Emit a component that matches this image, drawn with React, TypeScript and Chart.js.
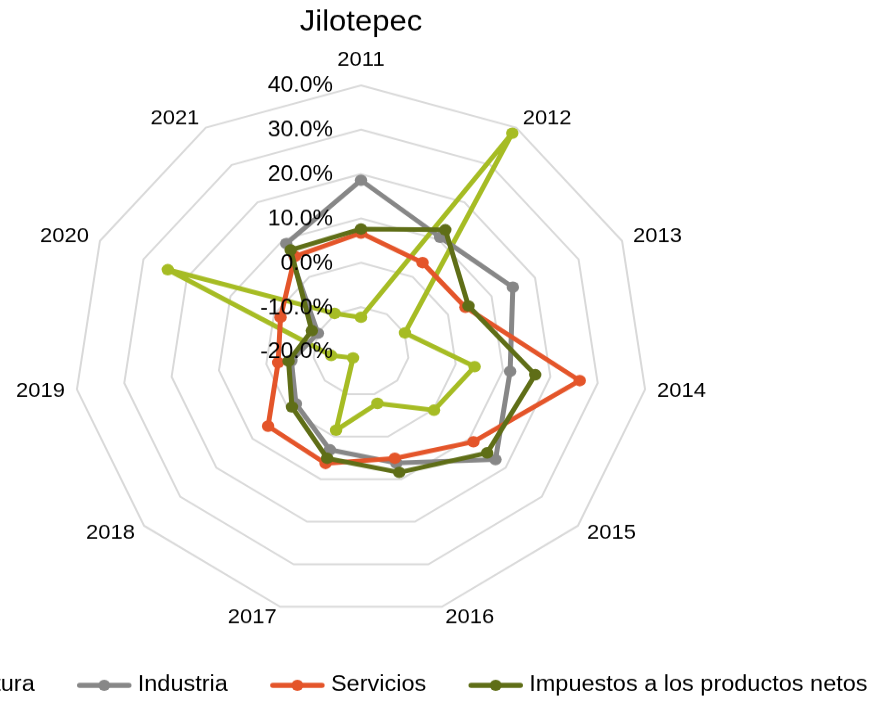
import React, { useEffect, useRef } from 'react';
import { Chart, registerables } from 'chart.js';

Chart.register(...registerables);

// ---- data ----
const categories = ['2011', '2012', '2013', '2014', '2015', '2016', '2017', '2018', '2019', '2020', '2021'];
const agricultura = [-12.3, 38.5, -9.9, 4.0, 0.2, -7.8, -1.5, -17.8, -13.7, 24.4, -9.8];
const industria = [18.6, 10.6, 14.9, 11.5, 17.2, 6.2, 3.1, -2.0, -5.3, -10.1, 8.9];
const servicios = [6.7, 3.8, 4.0, 26.2, 11.1, 5.1, 6.3, 5.7, -2.5, -1.5, 5.5];
const impuestos = [7.6, 12.6, 4.7, 16.8, 14.9, 8.4, 5.1, -0.9, -4.7, -8.7, 7.2];
const seriesNames = ['Agricultura', 'Industria', 'Servicios', 'Impuestos a los productos netos'];
const seriesColors = ['#A6BC24', '#878787', '#E4552A', '#5F6E17'];
const chartTitle = 'Jilotepec';
const scaleMin = -20;
const scaleMax = 40;
const scaleStep = 10;

const FONT = "'Liberation Sans', Arial, sans-serif";
const CANVAS_W = 874;
const CANVAS_H = 757;
const CSS_H = 702;

const overlayPlugin = {
  id: 'overlay',
  afterDatasetsDraw(chart: any) {
    const ctx = chart.ctx as CanvasRenderingContext2D;
    const s = chart.scales.r;
    ctx.save();
    ctx.fillStyle = '#000';

    // radial tick labels
    ctx.font = `23px ${FONT}`;
    ctx.textAlign = 'right';
    ctx.textBaseline = 'middle';
    s.ticks.forEach((t: any) => {
      const d = s.getDistanceFromCenterForValue(t.value);
      ctx.fillText(`${Number(t.value).toFixed(1)}%`, s.xCenter - 28, s.yCenter - d + 1);
    });

    // point labels
    ctx.font = `22px ${FONT}`;
    const labels = chart.data.labels as string[];
    const n = labels.length;
    labels.forEach((lab, i) => {
      const p = s.getPointPosition(i, s.drawingArea + 12);
      const ang = (i * 360) / n;
      let y = p.y;
      if (ang === 0) {
        ctx.textAlign = 'center';
        y = p.y - 15;
      } else if (ang === 180) {
        ctx.textAlign = 'center';
        y = p.y + 15;
      } else if (ang < 180) {
        ctx.textAlign = 'left';
      } else {
        ctx.textAlign = 'right';
      }
      ctx.fillText(lab, p.x, y);
    });

    // title
    ctx.font = `31px ${FONT}`;
    ctx.textAlign = 'center';
    ctx.fillText(chartTitle, s.xCenter, 24);

    // legend
    ctx.font = `23.5px ${FONT}`;
    const lineLen = 55;
    const gap = 6;
    const spacing = 42;
    const widths = seriesNames.map((nm) => lineLen + gap + ctx.measureText(nm).width);
    const total = widths.reduce((a, b) => a + b, 0) + spacing * (seriesNames.length - 1);
    let x = s.xCenter + 3.5 - total / 2;
    const ly = 739;
    seriesNames.forEach((nm, i) => {
      ctx.strokeStyle = seriesColors[i];
      ctx.lineWidth = 5.5;
      ctx.lineCap = 'round';
      ctx.beginPath();
      ctx.moveTo(x + 3, ly);
      ctx.lineTo(x + lineLen - 3, ly);
      ctx.stroke();
      ctx.fillStyle = seriesColors[i];
      ctx.beginPath();
      ctx.arc(x + lineLen / 2, ly, 6, 0, Math.PI * 2);
      ctx.fill();
      ctx.fillStyle = '#000';
      ctx.textAlign = 'left';
      ctx.textBaseline = 'middle';
      ctx.fillText(nm, x + lineLen + gap, ly);
      x += widths[i] + spacing;
    });

    ctx.restore();
  },
};

export default function App() {
  const ref = useRef<HTMLCanvasElement | null>(null);

  useEffect(() => {
    if (!ref.current) return;
    const series = [agricultura, industria, servicios, impuestos];
    const chart = new Chart(ref.current, {
      type: 'radar',
      data: {
        labels: categories,
        datasets: series.map((d, i) => ({
          label: seriesNames[i],
          data: d,
          borderColor: seriesColors[i],
          backgroundColor: seriesColors[i],
          pointBackgroundColor: seriesColors[i],
          pointBorderColor: seriesColors[i],
          pointBorderWidth: 0,
          pointRadius: 6.2,
          borderWidth: 5,
          borderJoinStyle: 'round',
          fill: false,
          tension: 0,
          order: series.length - i,
        })),
      },
      options: {
        responsive: false,
        animation: false,
        devicePixelRatio: 1,
        layout: { padding: { left: 74, right: CANVAS_W - 648, top: 92, bottom: CANVAS_H - 666 } },
        plugins: {
          legend: { display: false },
          title: { display: false },
          tooltip: { enabled: false },
        },
        scales: {
          r: {
            min: scaleMin,
            max: scaleMax,
            ticks: { display: false, stepSize: scaleStep },
            pointLabels: { display: false },
            angleLines: { display: false },
            grid: { color: '#D9D9D9', lineWidth: 2 },
          },
        },
      },
      plugins: [overlayPlugin],
    } as any);
    return () => chart.destroy();
  }, []);

  return (
    <div style={{ position: 'absolute', left: 0, top: 0, width: CANVAS_W, height: CSS_H, overflow: 'hidden', background: '#fff' }}>
      <canvas ref={ref} width={CANVAS_W} height={CANVAS_H} style={{ width: CANVAS_W + 'px', height: CSS_H + 'px', display: 'block' }} />
    </div>
  );
}
